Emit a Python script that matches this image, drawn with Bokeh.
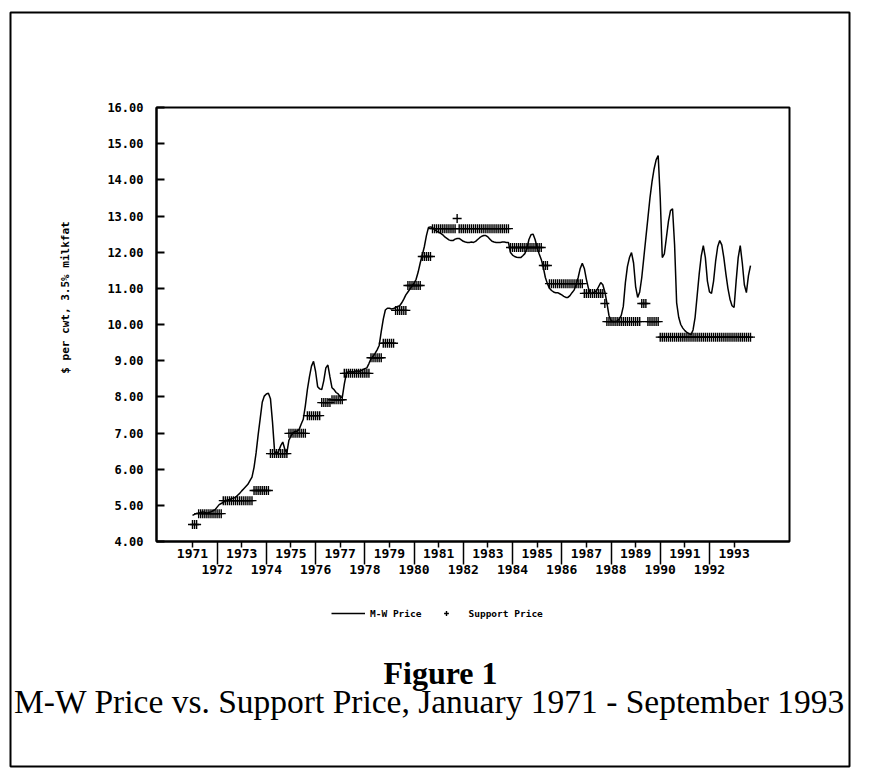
from bokeh.plotting import figure
from bokeh.models import (LinearAxis, FixedTicker, Range1d, Legend, LegendItem,
                          Label, BoxAnnotation, PrintfTickFormatter)
from bokeh.embed import file_html
from bokeh.resources import INLINE

# ---------------- data (monthly, Jan 1971 - Sep 1993) ----------------
mw_price = [
    4.72, 4.75, 4.78, 4.78, 4.80, 4.82, 4.80, 4.78, 4.80, 4.82, 4.85, 4.88,        # 1971
    4.95, 5.02, 5.05, 5.08, 5.12, 5.15, 5.16, 5.18, 5.20, 5.22, 5.28, 5.33,        # 1972
    5.40, 5.46, 5.52, 5.58, 5.68, 5.78, 6.05, 6.45, 6.95, 7.40, 7.85, 8.02,        # 1973
    8.08, 8.10, 7.95, 7.30, 6.50, 6.42, 6.50, 6.65, 6.75, 6.55, 6.45, 6.80,        # 1974
    6.92, 7.00, 7.05, 7.05, 7.10, 7.25, 7.38, 7.75, 8.20, 8.55, 8.85, 8.98,        # 1975
    8.70, 8.28, 8.22, 8.20, 8.45, 8.80, 8.88, 8.55, 8.25, 8.20, 8.12, 8.08,        # 1976
    8.00, 7.98, 8.35, 8.65, 8.70, 8.70, 8.68, 8.70, 8.72, 8.70, 8.72, 8.75,        # 1977
    8.78, 8.80, 8.92, 9.05, 9.12, 9.20, 9.30, 9.42, 9.80, 10.15, 10.40, 10.45,     # 1978
    10.45, 10.43, 10.44, 10.47, 10.50, 10.52, 10.60, 10.70, 10.82, 10.90, 10.98, 11.06,  # 1979
    11.14, 11.25, 11.45, 11.70, 11.92, 12.15, 12.45, 12.68, 12.70, 12.68, 12.62, 12.58,  # 1980
    12.55, 12.52, 12.48, 12.42, 12.38, 12.34, 12.32, 12.32, 12.36, 12.38, 12.38, 12.34,  # 1981
    12.30, 12.28, 12.27, 12.27, 12.28, 12.27, 12.30, 12.35, 12.40, 12.44, 12.46, 12.46,  # 1982
    12.42, 12.36, 12.30, 12.28, 12.27, 12.27, 12.27, 12.28, 12.28, 12.27, 12.27, 11.99,  # 1983
    11.92, 11.88, 11.86, 11.85, 11.85, 11.90, 11.96, 12.10, 12.35, 12.48, 12.50, 12.35,  # 1984
    12.13, 11.95, 11.80, 11.58, 11.30, 11.13, 11.00, 10.94, 10.90, 10.88, 10.88, 10.85,  # 1985
    10.82, 10.78, 10.75, 10.75, 10.80, 10.88, 10.95, 11.10, 11.30, 11.55, 11.69, 11.55,  # 1986
    11.25, 11.00, 10.86, 10.86, 10.90, 10.94, 11.05, 11.16, 11.10, 10.90, 10.60, 10.25,  # 1987
    10.11, 10.08, 10.08, 10.10, 10.15, 10.25, 10.50, 11.15, 11.60, 11.85, 11.99, 11.70,  # 1988
    11.05, 10.75, 10.90, 11.30, 11.85, 12.40, 12.95, 13.50, 13.95, 14.30, 14.55, 14.67,  # 1989
    13.50, 11.85, 11.95, 12.40, 12.85, 13.15, 13.20, 12.20, 10.60, 10.20, 10.00, 9.90,   # 1990
    9.83, 9.78, 9.75, 9.72, 9.85, 10.20, 10.80, 11.40, 11.90, 12.18, 11.85, 11.20,       # 1991
    10.90, 10.86, 11.20, 11.75, 12.15, 12.32, 12.20, 11.85, 11.40, 11.00, 10.70, 10.52,  # 1992
    10.47, 11.20, 11.85, 12.18, 11.70, 11.10, 10.88, 11.35, 11.63,                       # 1993
]

support_price = [
    4.47, 4.47, 4.47, 4.77, 4.77, 4.77, 4.77, 4.77, 4.77, 4.77, 4.77, 4.77,        # 1971
    4.77, 4.77, 4.77, 5.13, 5.13, 5.13, 5.13, 5.13, 5.13, 5.13, 5.13, 5.13,        # 1972
    5.13, 5.13, 5.13, 5.13, 5.13, 5.13, 5.41, 5.41, 5.41, 5.41, 5.41, 5.41,        # 1973
    5.41, 5.41, 6.43, 6.43, 6.43, 6.43, 6.43, 6.43, 6.43, 6.43, 6.43, 6.99,        # 1974
    6.99, 6.99, 6.99, 6.99, 6.99, 6.99, 6.99, 6.99, 7.48, 7.48, 7.48, 7.48,        # 1975
    7.48, 7.48, 7.48, 7.84, 7.84, 7.84, 7.84, 7.84, 7.92, 7.92, 7.92, 7.92,        # 1976
    7.92, 7.92, 8.65, 8.65, 8.65, 8.65, 8.65, 8.65, 8.65, 8.65, 8.65, 8.65,        # 1977
    8.65, 8.65, 8.65, 9.08, 9.08, 9.08, 9.08, 9.08, 9.08, 9.48, 9.48, 9.48,        # 1978
    9.48, 9.48, 9.48, 10.39, 10.39, 10.39, 10.39, 10.39, 10.39, 11.08, 11.08, 11.08,  # 1979
    11.08, 11.08, 11.08, 11.08, 11.88, 11.88, 11.88, 11.88, 11.88, 12.65, 12.65, 12.65,  # 1980
    12.65, 12.65, 12.65, 12.65, 12.65, 12.65, 12.65, 12.65, 12.65, 12.93, 12.65, 12.65,  # 1981
    12.65, 12.65, 12.65, 12.65, 12.65, 12.65, 12.65, 12.65, 12.65, 12.65, 12.65, 12.65,  # 1982
    12.65, 12.65, 12.65, 12.65, 12.65, 12.65, 12.65, 12.65, 12.65, 12.65, 12.65, 12.13,  # 1983
    12.13, 12.13, 12.13, 12.13, 12.13, 12.13, 12.13, 12.13, 12.13, 12.13, 12.13, 12.13,  # 1984
    12.13, 12.13, 12.13, 11.63, 11.63, 11.63, 11.13, 11.13, 11.13, 11.13, 11.13, 11.13,  # 1985
    11.13, 11.13, 11.13, 11.13, 11.13, 11.13, 11.13, 11.13, 11.13, 11.13, 11.13, 10.86,  # 1986
    10.86, 10.86, 10.86, 10.86, 10.86, 10.86, 10.86, 10.86, 10.86, 10.58, 10.08, 10.08,  # 1987
    10.08, 10.08, 10.08, 10.08, 10.08, 10.08, 10.08, 10.08, 10.08, 10.08, 10.08, 10.08,  # 1988
    10.08, 10.08, 10.08, 10.58, 10.58, 10.58, 10.08, 10.08, 10.08, 10.08, 10.08, 10.08,  # 1989
    9.65, 9.65, 9.65, 9.65, 9.65, 9.65, 9.65, 9.65, 9.65, 9.65, 9.65, 9.65,        # 1990
    9.65, 9.65, 9.65, 9.65, 9.65, 9.65, 9.65, 9.65, 9.65, 9.65, 9.65, 9.65,        # 1991
    9.65, 9.65, 9.65, 9.65, 9.65, 9.65, 9.65, 9.65, 9.65, 9.65, 9.65, 9.65,        # 1992
    9.65, 9.65, 9.65, 9.65, 9.65, 9.65, 9.65, 9.65, 9.65,                          # 1993
]

year_labels = [str(y) for y in range(1971, 1994)]
y_ticks = [4, 5, 6, 7, 8, 9, 10, 11, 12, 13, 14, 15, 16]

months = list(range(len(mw_price)))

# ---------------- layout (canvas pixels) ----------------
W, H = 870, 773
FL, FR, FT, FB = 156, 789, 107, 541        # chart box edges on the canvas
X0_PX, X1_PX = 192, 750                      # first / last month on the canvas
Y0, Y1 = 4, 16
mpp = (len(months) - 1) / (X1_PX - X0_PX)   # months per pixel
vpp = (Y1 - Y0) / (FB - FT)                  # dollars per pixel


def xd(px):
    return (px - X0_PX) * mpp


def yd(py):
    return Y0 + (FB - py) * vpp


MONO = "DejaVu Sans Mono"
SERIF = "Liberation Serif"

p = figure(width=W, height=H, output_backend="svg", toolbar_location=None,
           title=None, x_axis_location=None, y_axis_location=None,
           x_range=Range1d(xd(0), xd(W)), y_range=Range1d(yd(H), yd(0)),
           min_border=0, min_border_left=0, min_border_right=0,
           min_border_top=0, min_border_bottom=0)
p.xgrid.visible = False
p.ygrid.visible = False
p.outline_line_color = None
p.background_fill_color = "white"
p.border_fill_color = "white"

chart_left, chart_right = xd(FL), xd(FR)

# y axis
yax = LinearAxis(fixed_location=chart_left, bounds=(Y0, Y1),
                 ticker=FixedTicker(ticks=y_ticks, minor_ticks=[]),
                 formatter=PrintfTickFormatter(format="%.2f"),
                 major_tick_in=8, major_tick_out=0, minor_tick_in=0, minor_tick_out=0,
                 major_tick_line_width=2, axis_line_width=2,
                 major_label_standoff=13,
                 major_label_text_font=MONO, major_label_text_font_size="12px",
                 major_label_text_font_style="bold", major_label_text_color="black")
p.add_layout(yax, "left")

# x axis: odd years on the first row with short ticks
tick_pos = [12 * i for i in range(len(year_labels))]
odd_pos = tick_pos[0::2]
even_pos = tick_pos[1::2]
xax = LinearAxis(fixed_location=Y0, bounds=(chart_left, chart_right),
                 ticker=FixedTicker(ticks=odd_pos, minor_ticks=[]),
                 major_label_overrides={t: year_labels[i] for i, t in enumerate(tick_pos) if i % 2 == 0},
                 major_tick_in=0, major_tick_out=6, minor_tick_in=0, minor_tick_out=0,
                 major_tick_line_width=1.5, axis_line_width=2,
                 major_label_standoff=1,
                 major_label_text_font=MONO, major_label_text_font_size="13px",
                 major_label_text_font_style="bold", major_label_text_color="black")
p.add_layout(xax, "below")

# even years on the second row with long ticks
xax2 = LinearAxis(fixed_location=Y0, bounds=(chart_left, chart_right),
                  ticker=FixedTicker(ticks=even_pos, minor_ticks=[]),
                  major_label_overrides={t: year_labels[i] for i, t in enumerate(tick_pos) if i % 2 == 1},
                  axis_line_color=None, major_tick_in=0, major_tick_out=23,
                  minor_tick_in=0, minor_tick_out=0, major_tick_line_width=1.5,
                  major_label_standoff=0,
                  major_label_text_font=MONO, major_label_text_font_size="13px",
                  major_label_text_font_style="bold", major_label_text_color="black")
p.add_layout(xax2, "below")

# chart box
p.add_layout(BoxAnnotation(left=chart_left, right=chart_right, bottom=Y0, top=Y1,
                           fill_alpha=0, line_color="black", line_width=2, line_alpha=1))

# series
r_line = p.line(months, mw_price, line_color="black", line_width=1.5)
r_cross = p.scatter(months, support_price, marker="cross", size=9,
                    line_color="black", line_width=1.4)

legend = Legend(items=[LegendItem(label="M-W Price", renderers=[r_line]),
                       LegendItem(label="Support Price", renderers=[r_cross])],
                orientation="horizontal", location=(331, H - 619),
                border_line_color=None, background_fill_alpha=0,
                glyph_width=34, glyph_height=12, label_height=12,
                label_standoff=5, spacing=8, padding=0, margin=0,
                label_text_font=MONO, label_text_font_size="9.5px",
                label_text_font_style="bold", label_text_color="black")
p.add_layout(legend)

# y-axis title
p.add_layout(Label(x=xd(65), y=yd(297), text="$ per cwt, 3.5% milkfat",
                   angle=90, angle_units="deg", text_align="center", text_baseline="middle",
                   text_font=MONO, text_font_size="11px", text_font_style="bold",
                   text_color="black"))

# figure caption
p.add_layout(Label(x=xd(440), y=yd(672), text="Figure 1", text_align="center",
                   text_baseline="middle", text_font=SERIF, text_font_size="32px",
                   text_font_style="bold", text_color="black"))
p.add_layout(Label(x=xd(429), y=yd(701),
                   text="M-W Price vs. Support Price, January 1971 - September 1993",
                   text_align="center", text_baseline="middle", text_font=SERIF,
                   text_font_size="33.5px", text_color="black"))

# page frame
p.add_layout(BoxAnnotation(left=xd(10), right=xd(849), top=yd(12), bottom=yd(766),
                           fill_alpha=0, line_color="black", line_width=2, line_alpha=1))

open("out.html", "w").write(file_html(p, INLINE))
